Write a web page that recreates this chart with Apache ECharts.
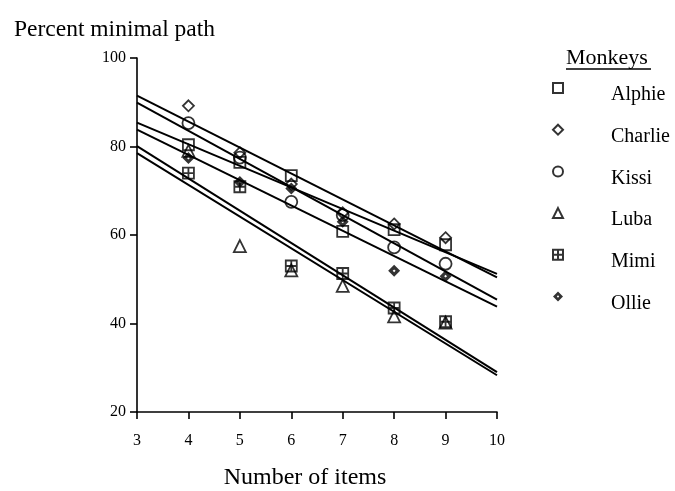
<!DOCTYPE html>
<html>
<head>
<meta charset="utf-8">
<script src="https://cdn.jsdelivr.net/npm/echarts@6/dist/echarts.min.js"></script>
<style>
  html, body { margin: 0; padding: 0; background: #ffffff; overflow: hidden; }
  #chart { width: 675px; height: 491px; }
</style>
</head>
<body>
<div id="chart"></div>
<script>
// Number of items presented on each trial
const itemCounts = [4, 5, 6, 7, 8, 9];

// Percent of trials on which each monkey took the minimal path
const alphie  = [80.4, 76.4, 73.4, 60.8, 61.2, 57.8];
const charlie = [89.2, 78.6, 71.5, 65.0, 62.5, 59.4];
const kissi   = [85.3, 77.5, 67.5, 64.5, 57.2, 53.5];
const luba    = [79.0, 57.5, 52.0, 48.5, 41.6, 40.2];
const mimi    = [74.0, 70.9, 53.0, 51.3, 43.5, 40.4];
const ollie   = [77.4, 72.0, 70.5, 63.0, 51.9, 50.7];

// Fitted trend lines: value at the left (3 items) and right (10 items) ends
const fitX       = [3, 10];
const fitAlphie  = [85.4, 51.2];
const fitCharlie = [91.5, 50.4];
const fitKissi   = [89.9, 45.4];
const fitLuba    = [78.5, 28.3];
const fitMimi    = [80.1, 29.0];
const fitOllie   = [83.8, 43.8];

// Axis ticks
const xTicks = [3, 4, 5, 6, 7, 8, 9, 10];
const yTicks = [20, 40, 60, 80, 100];

const monkeyNames  = ['Alphie', 'Charlie', 'Kissi', 'Luba', 'Mimi', 'Ollie'];
const monkeyValues = [alphie, charlie, kissi, luba, mimi, ollie];
const monkeyFits   = [fitAlphie, fitCharlie, fitKissi, fitLuba, fitMimi, fitOllie];

const INK = '#000000';
const SERIF = '"Liberation Serif", "DejaVu Serif", serif';

const hollow = { color: 'rgba(255,255,255,0)', borderColor: INK, borderWidth: 1.8 };
const markerStyles = {
  Alphie:  { symbol: 'rect', size: 11, style: hollow },
  Charlie: { symbol: 'diamond', size: 11, style: hollow },
  Kissi:   { symbol: 'circle', size: 12, style: hollow },
  Luba:    { symbol: 'triangle', size: 12, style: hollow },
  Mimi:    { symbol: 'path://M0,0H10V10H0ZM5,0V10M0,5H10', size: 11, style: hollow },
  Ollie:   { symbol: 'path://M5,0L10,5L5,10L0,5ZM5,3.8L3.8,5L5,6.2L6.2,5Z', size: 12,
             style: { color: INK, borderWidth: 0 } }
};

const series = [];
// trend lines go first so the markers sit on top of them
monkeyNames.forEach((name, i) => {
  series.push({
    name: name + ' trend',
    type: 'line',
    data: fitX.map((x, k) => [x, monkeyFits[i][k]]),
    showSymbol: false,
    symbol: 'none',
    lineStyle: { color: INK, width: 2 },
    silent: true,
    z: 2
  });
});
monkeyNames.forEach((name, i) => {
  const m = markerStyles[name];
  series.push({
    name: name,
    type: 'scatter',
    data: itemCounts.map((x, k) => [x, monkeyValues[i][k]]),
    symbol: m.symbol,
    symbolSize: m.size,
    itemStyle: m.style,
    z: 3
  });
});

const chart = echarts.init(document.getElementById('chart'), null,
  { renderer: 'canvas', width: 675, height: 491 });
chart.setOption({
  animation: false,
  backgroundColor: '#ffffff',
  title: {
    text: 'Percent minimal path',
    left: 9,
    top: 13,
    textStyle: { fontFamily: SERIF, fontSize: 23.5, fontWeight: 'normal', color: INK }
  },
  grid: { left: 137, right: 178, top: 58, bottom: 79, containLabel: false, outerBoundsMode: 'none' },
  xAxis: {
    type: 'value',
    min: xTicks[0],
    max: xTicks[xTicks.length - 1],
    interval: 1,
    name: 'Number of items',
    nameLocation: 'middle',
    nameGap: 54,
    nameTextStyle: { fontFamily: SERIF, fontSize: 24, color: INK, padding: [0, 24, 0, 0] },
    axisLine: { show: true, onZero: false, lineStyle: { color: INK, width: 1.6 } },
    axisTick: { show: true, inside: false, length: 7, lineStyle: { color: INK, width: 1.6 } },
    axisLabel: { margin: 21, fontFamily: SERIF, fontSize: 16, color: INK },
    splitLine: { show: false }
  },
  yAxis: {
    type: 'value',
    min: yTicks[0],
    max: yTicks[yTicks.length - 1],
    interval: 20,
    axisLine: { show: true, onZero: false, lineStyle: { color: INK, width: 1.6 } },
    axisTick: { show: true, inside: false, length: 7, lineStyle: { color: INK, width: 1.6 } },
    axisLabel: { margin: 11, fontFamily: SERIF, fontSize: 16, color: INK },
    splitLine: { show: false }
  },
  legend: {
    data: monkeyNames,
    orient: 'vertical',
    left: 547,
    top: 66,
    itemWidth: 10,
    itemHeight: 10,
    itemGap: 7.7,
    selectedMode: false,
    formatter: '{t|{name}}',
    textStyle: {
      fontFamily: SERIF, fontSize: 20, color: INK, lineHeight: 22, padding: [0, 0, 0, 43],
      rich: { t: { fontFamily: SERIF, fontSize: 20, color: INK, lineHeight: 22, padding: [14, 0, 0, 0] } }
    }
  },
  graphic: [
    {
      type: 'text',
      left: 566,
      top: 47,
      style: { text: 'Monkeys', font: '22px ' + SERIF, fill: INK }
    },
    {
      type: 'line',
      shape: { x1: 566, y1: 69, x2: 651, y2: 69 },
      style: { stroke: INK, lineWidth: 1.3 }
    }
  ],
  series: series
});
</script>
</body>
</html>
